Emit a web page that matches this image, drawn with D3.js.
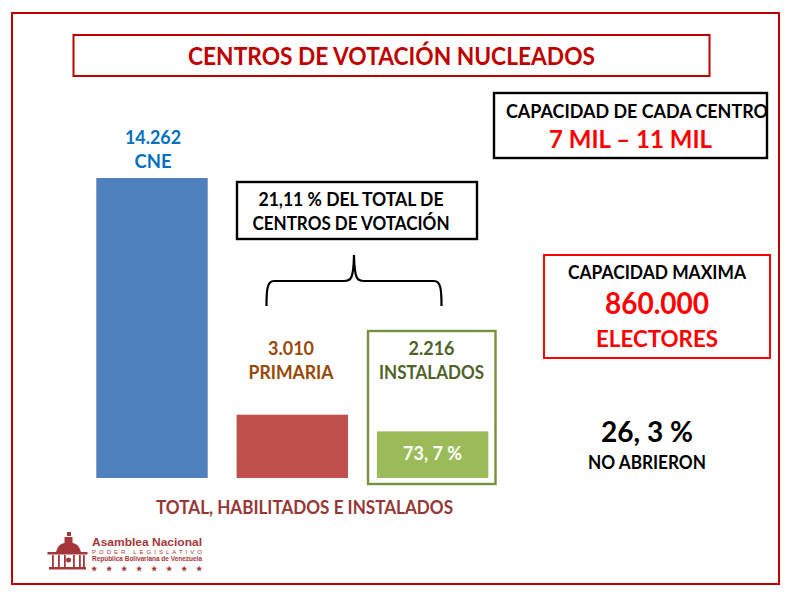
<!DOCTYPE html>
<html><head><meta charset="utf-8">
<script src="https://cdn.jsdelivr.net/npm/d3@7"></script>
<style>html,body{margin:0;padding:0;background:#fff}svg{display:block}text{font-family:Lato,"Open Sans",sans-serif;font-weight:700}</style>
</head><body><svg id="c" width="800" height="599"></svg>
<script>
const categories = ["CNE","PRIMARIA","INSTALADOS"];
const values = [14262,3010,2216];
const valueLabels = ["14.262","3.010","2.216"];
const barColors = ["#4f81bd","#c0504d","#9bbb59"];
const labelColors = ["#0070c0","#984807","#4f6228"];
const title = "CENTROS DE VOTACIÓN NUCLEADOS";
const footer = "TOTAL, HABILITADOS E INSTALADOS";
const svg = d3.select("#c");
const x = d3.scaleBand().domain(categories).range([96.3,488.3]).paddingInner(0.206).paddingOuter(0);
const y = d3.scaleLinear().domain([0,14262]).range([478,178]);
function box(X,Y,W,H,color,sw){svg.append("rect").attr("x",X).attr("y",Y).attr("width",W).attr("height",H).attr("fill","#fff").attr("stroke",color).attr("stroke-width",sw);}
function txt(X,Y,s,size,color,w,anchor="middle"){const t=svg.append("text").attr("x",X).attr("y",Y).attr("text-anchor",anchor).attr("font-size",size).attr("fill",color).text(s);
  if(w)t.attr("textLength",w).attr("lengthAdjust","spacingAndGlyphs");return t;}
box(12,13,767,571,"#c00000",2);
box(73.5,35,636,41,"#c00000",2);
txt(391.5,64.5,title,24.5,"#c00000",407);
box(494,93,273,65,"#000",2.4);
txt(637,117.5,"CAPACIDAD DE CADA CENTRO",18,"#000",262);
txt(630.5,148,"7 MIL – 11 MIL",25,"#ff0000",163);
box(237,182,240,57,"#000",2.4);
txt(351,205.5,"21,11 % DEL TOTAL DE",18,"#000",185);
txt(351,229.5,"CENTROS DE VOTACIÓN",18,"#000",197);
svg.append("path").attr("fill","none").attr("stroke","#000").attr("stroke-width",2.2)
  .attr("d","M266.5,306 C266.5,290 267,281 274,281 L344,281 C351,281 353.5,279 354,255 C354.5,279 357,281 364,281 L434,281 C441,281 441.5,290 441.5,306");
box(544,255,226,103,"#ff0000",2);
txt(657,278.5,"CAPACIDAD MAXIMA",18,"#000",178);
txt(657,313.5,"860.000",29.5,"#ff0000",104);
txt(657,346.5,"ELECTORES",23.5,"#ff0000",122);
txt(647,441.5,"26, 3 %",28,"#000",92);
txt(647,468.5,"NO ABRIERON",18,"#000",118);
box(368,331,127.5,153,"#76923c",2.4);
svg.selectAll("rect.bar").data(categories).join("rect").attr("class","bar")
  .attr("x",d=>x(d)).attr("width",x.bandwidth())
  .attr("y",(d,i)=>y(values[i])).attr("height",(d,i)=>y(0)-y(values[i]))
  .attr("fill",(d,i)=>barColors[i]);
const labelY=[[144,168],[355,379],[355,379]];
const labelCx=[153,291,431.5];
const nameW=[37,85,105];
const valW=[56,46,46];
categories.forEach((c,i)=>{
  txt(labelCx[i],labelY[i][0],valueLabels[i],18.5,labelColors[i],valW[i]);
  txt(labelCx[i],labelY[i][1],c,18.5,labelColors[i],nameW[i]);});
txt(x("INSTALADOS")+x.bandwidth()/2,460,"73, 7 %",18,"#fff",59);
txt(304.5,514,footer,18,"#953735",297);
// logo
const m="#a5373a";
const g=svg.append("g").attr("fill",m);
g.append("rect").attr("x",47.5).attr("y",552).attr("width",40).attr("height",2.5);
g.append("rect").attr("x",49).attr("y",567).attr("width",37).attr("height",2.5);
[52,58,64,73,79,83].forEach(X=>g.append("rect").attr("x",X).attr("y",555).attr("width",1.8).attr("height",12));
g.append("circle").attr("cx",68.5).attr("cy",560).attr("r",2.5);
g.append("path").attr("d","M56,552 Q58,544 64,543 L73,543 Q79,544 81,552 Z");
g.append("rect").attr("x",64.5).attr("y",537).attr("width",8).attr("height",6);
g.append("rect").attr("x",67).attr("y",532).attr("width",4).attr("height",4);
const logoFont='"Liberation Sans",Arial,sans-serif';
txt(92,546,"Asamblea Nacional",11.5,m,110,"start").style("font-family",logoFont);
txt(92,554,"PODER LEGISLATIVO",6,m,110,"start").style("font-family",logoFont).style("font-weight",400).attr("textLength",110).attr("lengthAdjust","spacing");
txt(92,561,"República Bolivariana de Venezuela",6.8,m,110,"start").style("font-family",logoFont);
const stars=d3.range(8);
const sx=d3.scalePoint().domain(stars).range([94,199]);
g.selectAll("text.star").data(stars).join("text").attr("class","star").attr("x",d=>sx(d)).attr("y",570.5).attr("text-anchor","middle").attr("font-size",7).attr("fill",m).text("★");
</script></body></html>
